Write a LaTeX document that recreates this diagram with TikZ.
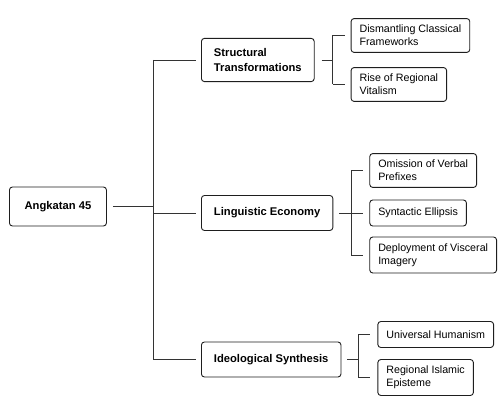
\documentclass[tikz,border=0pt]{standalone}
\usepackage{fontspec}
\setmainfont{Liberation Sans}
\usetikzlibrary{positioning}
\definecolor{treeink}{HTML}{1E1E1E}
\definecolor{treeline}{HTML}{333333}

\begin{document}
\begin{tikzpicture}[x=1pt, y=-1pt,
      root/.style={
        rectangle, rounded corners=3pt,
        minimum width=97pt, minimum height=39pt,
        draw=treeink, line width=0.9pt, fill=white,
        font=\fontsize{11.2}{15}\selectfont\bfseries, align=center
      },
      branch/.style={
        rectangle, rounded corners=3pt,
        minimum height=35pt, inner xsep=12.5pt, inner ysep=10pt,
        draw=treeink, line width=0.9pt, fill=white,
        font=\fontsize{11.2}{15}\selectfont\bfseries, align=left
      },
      leaf/.style={
        rectangle, rounded corners=3pt,
        minimum height=26pt, inner xsep=8.5pt, inner ysep=6.5pt,
        draw=treeink, line width=0.9pt, fill=white,
        font=\fontsize{10.7}{13}\selectfont, align=left
      },
      link/.style={line width=0.8pt, treeline}
    ]
      \useasboundingbox (0,0) rectangle (504,414);

      % Root
      \node[root, anchor=west] (root) at (9,206.5) {Angkatan 45};

      % Branches
      \node[branch, anchor=west] (struct) at (201,60) {Structural\\Transformations};
      \node[branch, anchor=west] (ling) at (201,213) {Linguistic Economy};
      \node[branch, anchor=west] (ideo) at (201,359.5) {Ideological Synthesis};

      % Leaves
      \coordinate (sl) at ([xshift=36pt]struct.east);
      \coordinate (ll) at ([xshift=36pt]ling.east);
      \coordinate (il) at ([xshift=36pt]ideo.east);
      \node[leaf, anchor=west] (dism) at (sl |- 0,35.5) {Dismantling Classical\\Frameworks};
      \node[leaf, anchor=west] (rise) at (sl |- 0,84.5) {Rise of Regional\\Vitalism};
      \node[leaf, anchor=west] (omit) at (ll |- 0,170.5) {Omission of Verbal\\Prefixes};
      \node[leaf, anchor=west] (ellip) at (ll |- 0,213) {Syntactic Ellipsis};
      \node[leaf, anchor=west] (visc) at (ll |- 0,255) {Deployment of Visceral\\Imagery};
      \node[leaf, anchor=west] (human) at (il |- 0,334.5) {Universal Humanism};
      \node[leaf, anchor=west] (islam) at (il |- 0,377.5) {Regional Islamic\\Episteme};

      % Trunk
      \coordinate (trunk) at (153,0);
      \draw[link] ([xshift=6pt]root.east) -- (root.east -| trunk);
      \draw[link] (struct.west -| trunk) -- (ideo.west -| trunk);
      \foreach \b in {struct, ling, ideo}
        \draw[link] (\b.west -| trunk) -- ([xshift=-5pt]\b.west);

      % Brackets
      \draw[link] ([xshift=7pt]struct.east) -- ++(11,0) coordinate (sb);
      \draw[link] (sb |- dism.west) -- (sb |- rise.west);
      \foreach \l in {dism, rise}
        \draw[link] (sb |- \l.west) -- ([xshift=-6pt]\l.west);

      \draw[link] ([xshift=6pt]ling.east) -- ++(12,0) coordinate (lb);
      \draw[link] (lb |- omit.west) -- (lb |- visc.west);
      \foreach \l in {omit, ellip, visc}
        \draw[link] (lb |- \l.west) -- ([xshift=-6pt]\l.west);

      \draw[link] ([xshift=6pt]ideo.east) -- ++(11,0) coordinate (ib);
      \draw[link] (ib |- human.west) -- (ib |- islam.west);
      \foreach \l in {human, islam}
        \draw[link] (ib |- \l.west) -- ([xshift=-7pt]\l.west);
    \end{tikzpicture}
\end{document}
